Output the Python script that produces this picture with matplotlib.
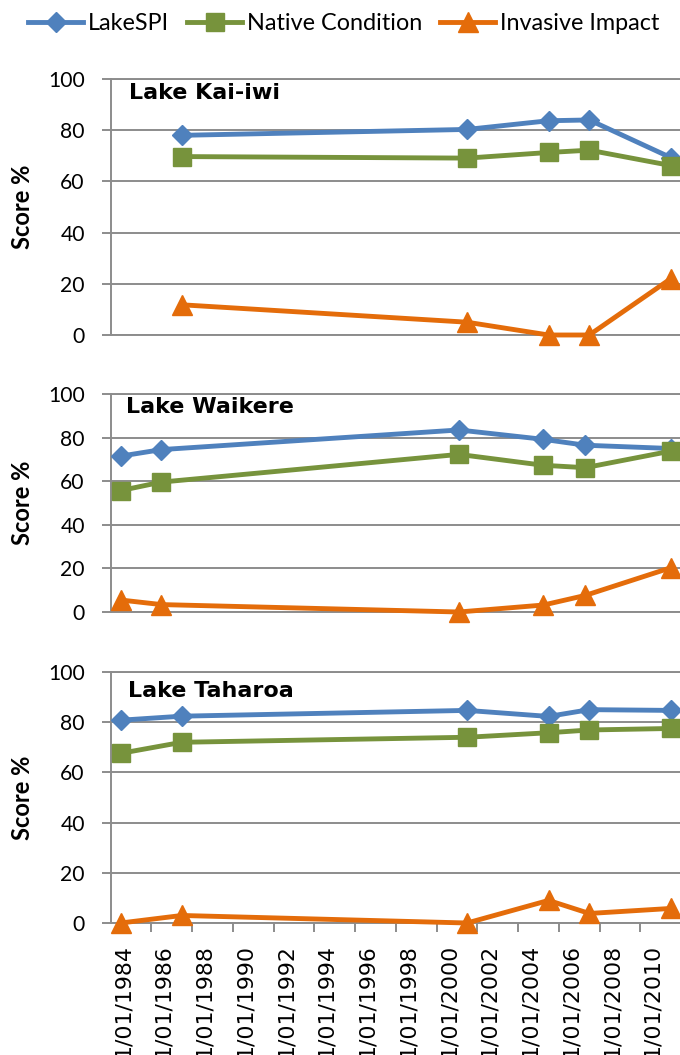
import matplotlib
matplotlib.use('Agg')
import matplotlib.pyplot as plt
from matplotlib.lines import Line2D

# ---------------- data ----------------
series_names = ["LakeSPI", "Native Condition", "Invasive Impact"]

kai_dates = [1987.0, 2001.0, 2005.0, 2007.0, 2011.0]
kai_spi = [78.0, 80.3, 83.7, 84.0, 69.3]
kai_native = [69.7, 69.1, 71.3, 72.2, 66.2]
kai_invasive = [11.8, 5.0, 0.0, 0.0, 22.0]

wai_dates = [1984.0, 1986.0, 2000.6, 2004.75, 2006.8, 2011.0]
wai_spi = [71.5, 74.5, 83.5, 79.2, 76.5, 75.0]
wai_native = [55.7, 59.6, 72.3, 67.3, 66.2, 73.8]
wai_invasive = [5.5, 3.4, 0.0, 3.2, 7.6, 20.3]

tah_dates = [1984.0, 1987.0, 2001.0, 2005.0, 2007.0, 2011.0]
tah_spi = [80.8, 82.4, 84.7, 82.3, 85.0, 84.7]
tah_native = [67.6, 72.0, 74.0, 75.8, 76.9, 77.5]
tah_invasive = [0.0, 3.0, 0.0, 9.0, 3.8, 5.8]

lake_names = ["Lake Kai-iwi", "Lake Waikere", "Lake Taharoa"]
label_years = list(range(1984, 2011, 2))
tick_labels = ["1/01/%d" % y for y in label_years]
y_ticks = [0, 20, 40, 60, 80, 100]

# ---------------- style ----------------
W, H = 680, 1055
fig = plt.figure(figsize=(W / 100, H / 100), dpi=100)

BLUE = "#4F81BD"
GREEN = "#77933C"
ORANGE = "#E46C0A"
GRID = "#8C8C8C"
colors = [BLUE, GREEN, ORANGE]
markers = ["D", "s", "^"]
msizes = [10.5, 13.5, 14.5]
LW = 3.5
PX = 0.72  # points per pixel at 100 dpi


def px_axes(l, t, r, b):
    return fig.add_axes([l / W, 1 - b / H, (r - l) / W, (b - t) / H])


panels = [
    (kai_dates, [kai_spi, kai_native, kai_invasive], (79, 335), 129, 99),
    (wai_dates, [wai_spi, wai_native, wai_invasive], (394, 612), 126, 413),
    (tah_dates, [tah_spi, tah_native, tah_invasive], (672, 923), 128, 697),
]

for i, (dates, vals, (top, bot), tx, tb) in enumerate(panels):
    ax = px_axes(110.5, top, 681, bot)
    ax.set_xlim(1983.5, 2011.5)
    ax.set_ylim(0, 100)
    for v, c, m, ms in zip(vals, colors, markers, msizes):
        ax.plot(dates, v, color=c, lw=LW, marker=m, ms=ms, mec=c, mfc=c,
                solid_joinstyle="round", clip_on=False, zorder=3)
    ax.set_yticks(y_ticks)
    ax.yaxis.grid(True, color=GRID, lw=1.4)
    ax.set_axisbelow(True)
    ax.spines["right"].set_visible(False)
    for s in ["left", "bottom", "top"]:
        ax.spines[s].set_color(GRID)
        ax.spines[s].set_linewidth(1.4)
    ax.tick_params(axis="y", length=9 * PX, width=1.4, color=GRID,
                   pad=12, labelsize=15.2, labelcolor="black")
    for lab in ax.get_yticklabels():
        lab.set_family("Lato")
    if i < 2:
        ax.set_xticks([])
    else:
        ax.set_xticks([y + 1.5 for y in label_years])
        ax.set_xticklabels([])
        ax.set_xticks([y + 0.1 for y in label_years], minor=True)
        ax.set_xticklabels(tick_labels, minor=True, rotation=90,
                           family="DejaVu Sans", fontsize=15.8)
        ax.tick_params(axis="x", which="major", length=9 * PX, width=1.4,
                       color=GRID)
        ax.tick_params(axis="x", which="minor", length=0, pad=15)
        for lab in ax.get_xticklabels(minor=True):
            lab.set_verticalalignment("top")
    fig.text(tx / W, 1 - tb / H, lake_names[i], family="DejaVu Sans",
             weight="bold", fontsize=16, va="baseline", ha="left")
    fig.text(22 / W, 1 - ((top + bot) / 2) / H, "Score %", family="Lato",
             weight="bold", fontsize=17, rotation=90, ha="center",
             va="center")

handles = [Line2D([], [], color=c, lw=LW, marker=m, ms=ms, mec=c, mfc=c)
           for c, m, ms in zip(colors, markers, msizes)]
fig.legend(handles, series_names, loc="center",
           bbox_to_anchor=(344 / W, 1 - 24 / H), ncol=3, frameon=False,
           prop={"family": "Lato", "size": 16.8}, handlelength=2.35,
           handletextpad=0.22, columnspacing=0.77, borderpad=0,
           borderaxespad=0)

fig.savefig("out.png", dpi=100)
